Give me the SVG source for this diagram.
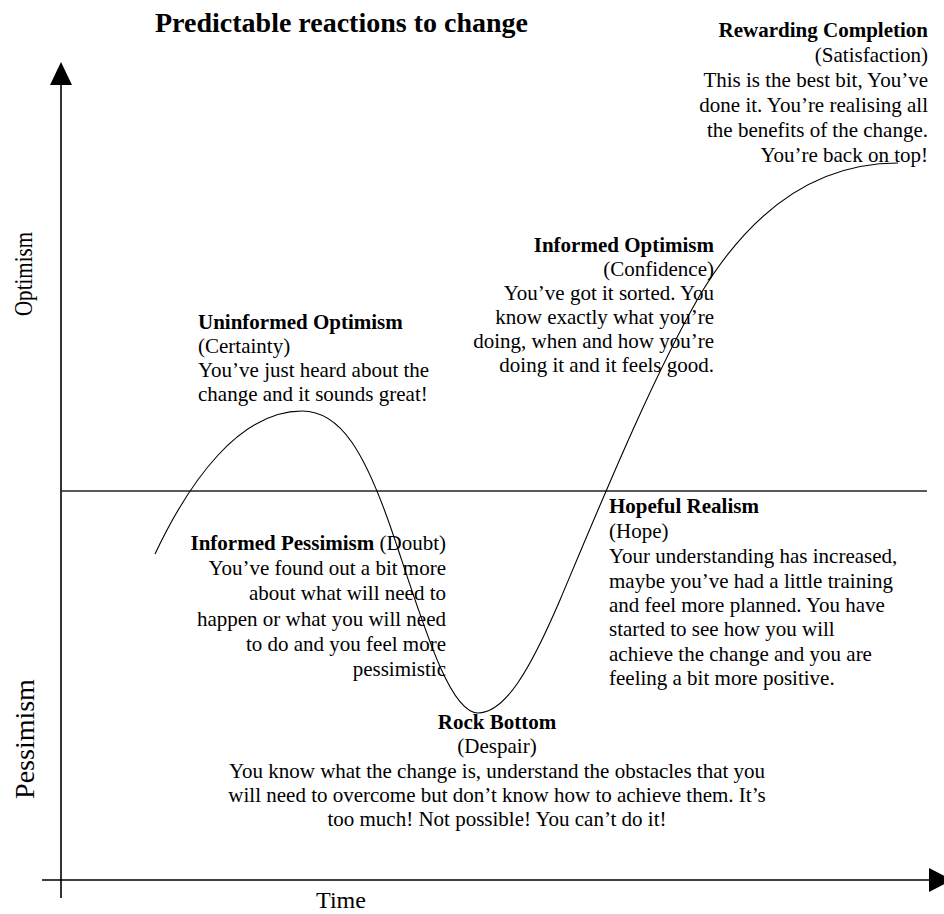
<svg xmlns="http://www.w3.org/2000/svg" width="944" height="914" viewBox="0 0 944 914">
  <style>
    text { font-family: "Liberation Serif", "Times New Roman", serif; fill: #000; }
    .title { font-size: 28px; font-weight: bold; }
    .h { font-size: 21px; font-weight: bold; }
    .b { font-size: 21px; }
    .time { font-size: 24px; }
    .end { text-anchor: end; }
    .mid { text-anchor: middle; }
    .axis { stroke: #000; stroke-width: 1.6; fill: none; }
    .mid-line { stroke: #222; stroke-width: 1.3; fill: none; }
    .curve { stroke: #000; stroke-width: 1.1; fill: none; }
  </style>

  <!-- title -->
  <g id="title">
    <text class="title" x="155" y="32">Predictable reactions to change</text>
  </g>

  <!-- axes, neutral line and the change curve -->
  <g id="connectors">
    <line class="axis" x1="61" y1="84" x2="61" y2="898"/>
    <polygon points="61,62 50,85 72,85" fill="#000"/>
    <line class="axis" x1="42" y1="880" x2="930" y2="880"/>
    <polygon points="929,868 952,880 929,892" fill="#000"/>
    <line class="mid-line" x1="61" y1="491" x2="927" y2="491"/>
    <path class="curve" d="M155,554 C190,480 240,411 302,411 C340,411 365,450 395,540 C425,630 450,713 478,713 C505,713 530,670 560,600 C600,505 652,378 700,295 C760,195 830,163 898,163"/>
  </g>

  <!-- axis labels (rotated) -->
  <g id="axis-labels">
    <text class="mid" font-size="26" transform="translate(32,274) rotate(-90) scale(0.81,1)">Optimism</text>
    <text class="mid" font-size="28" transform="translate(34,739) rotate(-90)">Pessimism</text>
    <text class="time mid" x="341" y="908">Time</text>
  </g>

  <g id="rewarding-completion">
    <text class="h end" x="928" y="37">Rewarding Completion</text>
    <text class="b end" x="928" y="62">(Satisfaction)</text>
    <text class="b end" x="928" y="87">This is the best bit, You’ve</text>
    <text class="b end" x="928" y="112">done it. You’re realising all</text>
    <text class="b end" x="928" y="137">the benefits of the change.</text>
    <text class="b end" x="928" y="162">You’re back on top!</text>
  </g>

  <g id="informed-optimism">
    <text class="h end" x="714" y="252">Informed Optimism</text>
    <text class="b end" x="714" y="276">(Confidence)</text>
    <text class="b end" x="714" y="300">You’ve got it sorted. You</text>
    <text class="b end" x="714" y="324">know exactly what you’re</text>
    <text class="b end" x="714" y="348">doing, when and how you’re</text>
    <text class="b end" x="714" y="372">doing it and it feels good.</text>
  </g>

  <g id="uninformed-optimism">
    <text class="h" x="198" y="329">Uninformed Optimism</text>
    <text class="b" x="198" y="353">(Certainty)</text>
    <text class="b" x="198" y="377">You’ve just heard about the</text>
    <text class="b" x="198" y="401">change and it sounds great!</text>
  </g>

  <g id="informed-pessimism">
    <text class="b end" x="446" y="550"><tspan font-weight="bold">Informed Pessimism</tspan> (Doubt)</text>
    <text class="b end" x="446" y="575">You’ve found out a bit more</text>
    <text class="b end" x="446" y="600">about what will need to</text>
    <text class="b end" x="446" y="626">happen or what you will need</text>
    <text class="b end" x="446" y="651">to do and you feel more</text>
    <text class="b end" x="446" y="676">pessimistic</text>
  </g>

  <g id="hopeful-realism">
    <text class="h" x="609" y="513">Hopeful Realism</text>
    <text class="b" x="609" y="538">(Hope)</text>
    <text class="b" x="609" y="563">Your understanding has increased,</text>
    <text class="b" x="609" y="588">maybe you’ve had a little training</text>
    <text class="b" x="609" y="612">and feel more planned. You have</text>
    <text class="b" x="609" y="636">started to see how you will</text>
    <text class="b" x="609" y="661">achieve the change and you are</text>
    <text class="b" x="609" y="685">feeling a bit more positive.</text>
  </g>

  <g id="rock-bottom">
    <text class="h mid" x="497" y="729">Rock Bottom</text>
    <text class="b mid" x="497" y="753">(Despair)</text>
    <text class="b mid" x="497" y="778">You know what the change is, understand the obstacles that you</text>
    <text class="b mid" x="497" y="802">will need to overcome but don’t know how to achieve them. It’s</text>
    <text class="b mid" x="497" y="826">too much! Not possible! You can’t do it!</text>
  </g>
</svg>
